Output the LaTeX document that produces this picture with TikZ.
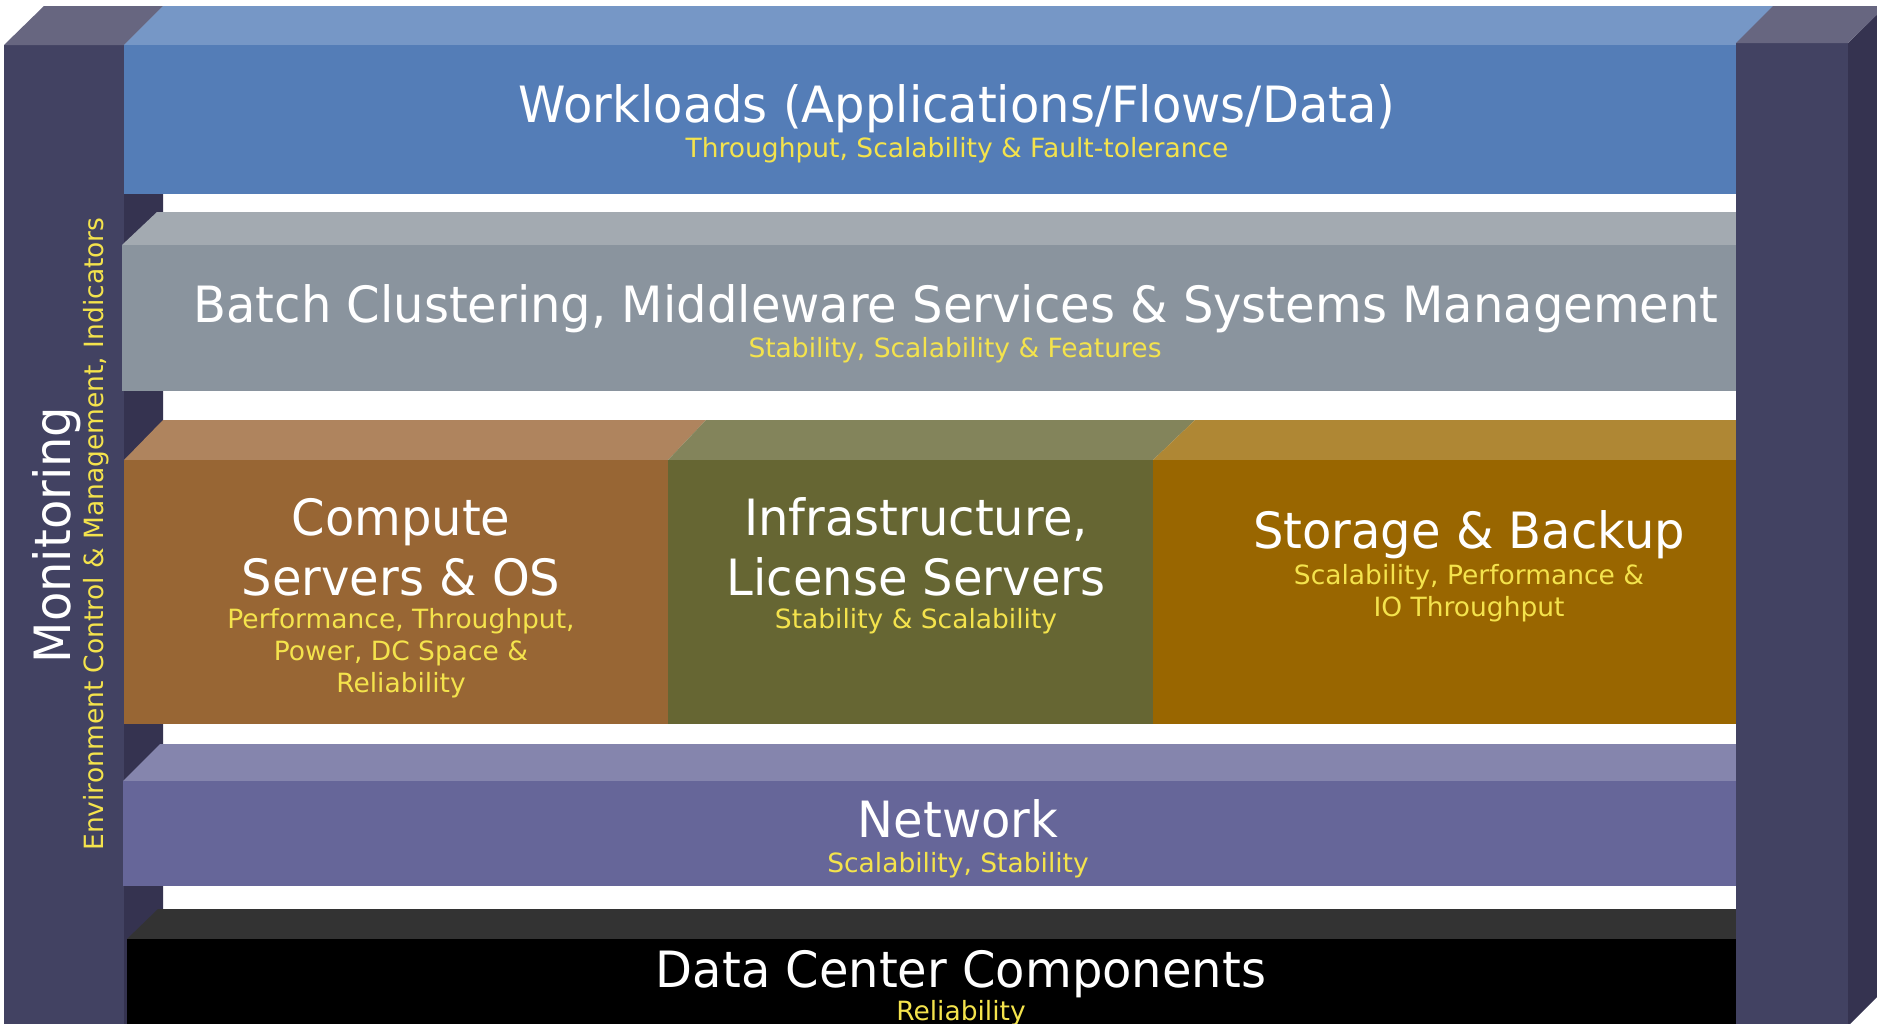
\documentclass[tikz,border=0pt]{standalone}
\usepackage{fontspec}
\setmainfont{DejaVu Sans}
\newfontfamily\ttlfamily[FakeStretch=0.96]{DejaVu Sans}
\definecolor{pilF}{HTML}{424262}
\definecolor{pilT}{HTML}{676680}
\definecolor{pilS}{HTML}{353350}
\definecolor{blueF}{HTML}{547DB7}
\definecolor{blueT}{HTML}{7697C6}
\definecolor{grayF}{HTML}{8A949E}
\definecolor{grayT}{HTML}{A3AAB1}
\definecolor{brownF}{HTML}{986634}
\definecolor{brownT}{HTML}{AF845E}
\definecolor{oliveF}{HTML}{666633}
\definecolor{oliveT}{HTML}{83845B}
\definecolor{goldF}{HTML}{996600}
\definecolor{goldT}{HTML}{AF8734}
\definecolor{netF}{HTML}{666699}
\definecolor{netT}{HTML}{8585AD}
\definecolor{dcT}{HTML}{333333}
\definecolor{subyellow}{HTML}{F4E34C}
\tikzset{
  ttl/.style={text=white, font=\ttlfamily\fontsize{50}{60}\selectfont, anchor=base, inner sep=0pt},
  sub/.style={text=subyellow, font=\fontsize{26.5}{32}\selectfont, anchor=base, inner sep=0pt},
}
\begin{document}
\begin{tikzpicture}[x=1pt,y=-1pt]
\useasboundingbox (0,0) rectangle (1877,1023);
\clip (0,0) rectangle (1877,1023);
\fill[white] (0,0) rectangle (1877,1023);
% left pillar
\fill[pilS] (124,45) -- (163,6) -- (163,1030) -- (124,1030) -- cycle;
\fill[pilF] (4,45) rectangle (124,1030);
\fill[pilT] (4,45) -- (44,6) -- (163,6) -- (124,45) -- cycle;
% workloads
\fill[blueT] (124,45) -- (163,6) -- (1775,6) -- (1736,45) -- cycle;
\fill[blueF] (124,45) rectangle (1736,194);
% batch
\fill[grayT] (122,245) -- (157,212) -- (1770,212) -- (1736,245) -- cycle;
\fill[grayF] (122,245) rectangle (1736,391);
% compute / infrastructure / storage
\fill[brownT] (124,460) -- (163,420) -- (706,420) -- (668,460) -- cycle;
\fill[oliveT] (668,460) -- (706,420) -- (1195,420) -- (1153,460) -- cycle;
\fill[goldT] (1153,460) -- (1195,420) -- (1780,420) -- (1736,460) -- cycle;
\fill[brownF] (124,460) rectangle (668,724);
\fill[oliveF] (668,460) rectangle (1153,724);
\fill[goldF] (1153,460) rectangle (1736,724);
% network
\fill[netT] (123,781) -- (160,744) -- (1780,744) -- (1736,781) -- cycle;
\fill[netF] (123,781) rectangle (1736,886);
% data center
\fill[dcT] (127,939) -- (158,909) -- (1780,909) -- (1736,939) -- cycle;
\fill[black] (127,939) rectangle (1736,1030);
% right pillar
\fill[pilS] (1848,43) -- (1886,5) -- (1886,988) -- (1848,1026) -- cycle;
\fill[pilF] (1736,43) rectangle (1848,1030);
\fill[pilT] (1736,43) -- (1773,6) -- (1886,6) -- (1848,43) -- cycle;
% texts
\node[ttl] (wl) at (957,122) {Workloads (Applications/Flows/Data)};
\node[sub] (wls) at (957,157) {Throughput, Scalability \& Fault-tolerance};
\node[ttl] (bc) at (956,322) {Batch Clustering, Middleware Services \& Systems Management};
\node[sub] (bcs) at (955,357) {Stability, Scalability \& Features};
\node[ttl] (cp1) at (401,535) {Compute};
\node[ttl] (cp2) at (401,595) {Servers \& OS};
\node[sub] (cps1) at (401,628) {Performance, Throughput,};
\node[sub] (cps2) at (401,660) {Power, DC Space \&};
\node[sub] (cps3) at (401,692) {Reliability};
\node[ttl] (in1) at (916,535) {Infrastructure,};
\node[ttl] (in2) at (916,595) {License Servers};
\node[sub] (ins) at (916,628) {Stability \& Scalability};
\node[ttl] (st) at (1469,548) {Storage \& Backup};
\node[sub] (sts1) at (1469,584) {Scalability, Performance \&};
\node[sub] (sts2) at (1469,616) {IO Throughput};
\node[ttl] (nw) at (958,837) {Network};
\node[sub] (nws) at (958,872) {Scalability, Stability};
\node[ttl] (dc) at (961,987) {Data Center Components};
\node[sub] (dcs) at (961,1020) {Reliability};
\node[ttl, rotate=90] (mon) at (70,535) {Monitoring};
\node[sub, rotate=90] (mons) at (103,534) {Environment Control \& Management, Indicators};
\end{tikzpicture}
\end{document}
